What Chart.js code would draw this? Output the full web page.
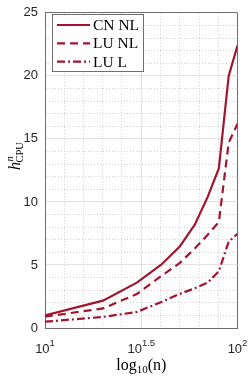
<!DOCTYPE html>
<html><head><meta charset="utf-8">
<script src="https://cdn.jsdelivr.net/npm/chart.js@4/dist/chart.umd.min.js"></script>
<style>html,body{margin:0;padding:0;background:#fff;} canvas{display:block;}</style>
</head><body>
<canvas id="c" width="249" height="376"></canvas>
<script>
// ---- data ----
const nValues = [10, 20, 30, 40, 50, 60, 70, 80, 90, 100];
const cnNL = [1.0, 2.17, 3.6, 5.0, 6.44, 8.2, 10.4, 12.66, 20.0, 22.4];
const luNL = [0.9, 1.55, 2.7, 4.1, 5.15, 6.3, 7.4, 8.4, 14.7, 16.2];
const luL  = [0.5, 0.88, 1.27, 2.05, 2.7, 3.15, 3.6, 4.5, 6.85, 7.48];
const seriesLabels = ['CN NL', 'LU NL', 'LU L'];
const xTickExponents = ['1', '1.5', '2'];
const yTickLabels = ['0', '5', '10', '15', '20', '25'];
const xTitleParts = ['log', '10', '(n)'];
const yTitleParts = ['h', 'n', 'CPU'];

const RED = '#A2142F';
const FRAME = '#6e6e6e';
const MAJOR = '#e2e2e2';
const MINOR = '#d2d2d2';

const toPts = arr => nValues.map((n, i) => ({x: n, y: arr[i]}));

const xGridExp = [];
for (let k = 0; k <= 10; k++) xGridExp.push(1 + k / 10);
const yGrid = [];
for (let k = 0; k <= 25; k++) yGrid.push(k);

const isXMajor = v => xTickExponents.some(e => Math.abs(Math.log10(v) - parseFloat(e)) < 1e-6);
const isYMajor = v => yTickLabels.includes(String(v));

const overlay = {
  id: 'overlay',
  afterDraw(chart) {
    const ctx = chart.ctx;
    const xs = chart.scales.x;
    const area = chart.chartArea;
    ctx.save();
    // x tick labels with superscripts
    ctx.fillStyle = '#262626';
    ctx.textAlign = 'left';
    ctx.textBaseline = 'alphabetic';
    const baseF = '13px "Liberation Sans", Arial, sans-serif';
    const supF = '9.5px "Liberation Sans", Arial, sans-serif';
    xTickExponents.forEach(e => {
      const px = xs.getPixelForValue(Math.pow(10, parseFloat(e)));
      ctx.font = baseF; const w1 = ctx.measureText('10').width;
      ctx.font = supF; const w2 = ctx.measureText(e).width;
      const x0 = px - (w1 + w2) / 2;
      ctx.font = baseF; ctx.fillText('10', x0, 353);
      ctx.font = supF; ctx.fillText(e, x0 + w1, 345.5);
    });
    // x title
    ctx.fillStyle = '#000';
    const tF = '16px "Liberation Serif", "Times New Roman", serif';
    const sF = '11px "Liberation Serif", "Times New Roman", serif';
    ctx.font = tF; const a = ctx.measureText(xTitleParts[0]).width;
    ctx.font = sF; const b = ctx.measureText(xTitleParts[1]).width;
    ctx.font = tF; const c = ctx.measureText(xTitleParts[2]).width;
    let x0 = (area.left + area.right) / 2 - (a + b + c) / 2;
    ctx.font = tF; ctx.fillText(xTitleParts[0], x0, 370);
    ctx.font = sF; ctx.fillText(xTitleParts[1], x0 + a, 373);
    ctx.font = tF; ctx.fillText(xTitleParts[2], x0 + a + b, 370);
    // y title rotated
    ctx.save();
    ctx.translate(20, 170);
    ctx.rotate(-Math.PI / 2);
    ctx.font = 'italic 16px "Liberation Serif", "Times New Roman", serif';
    const hw = ctx.measureText(yTitleParts[0]).width;
    ctx.fillText(yTitleParts[0], 0, 0);
    ctx.font = 'italic 10.5px "Liberation Serif", "Times New Roman", serif';
    ctx.fillText(yTitleParts[1], hw + 0.5, -7);
    ctx.font = '10.5px "Liberation Serif", "Times New Roman", serif';
    ctx.fillText(yTitleParts[2], hw - 0.5, 2.5);
    ctx.restore();
    // legend
    const L = 52.5, T = 14.5, R = 143.5, B = 71.5;
    ctx.fillStyle = '#fff';
    ctx.fillRect(L, T, R - L, B - T);
    ctx.strokeStyle = FRAME;
    ctx.lineWidth = 1;
    ctx.strokeRect(L, T, R - L, B - T);
    const rows = [25, 43.3, 61.7];
    chart.data.datasets.forEach((ds, i) => {
      const y = rows[i];
      ctx.strokeStyle = ds.borderColor;
      ctx.lineWidth = ds.borderWidth;
      ctx.setLineDash(ds.borderDash || []);
      ctx.beginPath();
      ctx.moveTo(57, y); ctx.lineTo(90, y);
      ctx.stroke();
      ctx.setLineDash([]);
      ctx.fillStyle = '#000';
      ctx.font = '15.5px "Liberation Serif", "Times New Roman", serif';
      ctx.fillText(ds.label, 93, y + 5);
    });
    ctx.restore();
  }
};

new Chart(document.getElementById('c'), {
  type: 'line',
  data: {
    datasets: [
      {label: seriesLabels[0], data: toPts(cnNL), borderColor: RED, borderWidth: 2.2, borderDash: [], pointRadius: 0, tension: 0, fill: false},
      {label: seriesLabels[1], data: toPts(luNL), borderColor: RED, borderWidth: 2.2, borderDash: [8, 5], pointRadius: 0, tension: 0, fill: false},
      {label: seriesLabels[2], data: toPts(luL), borderColor: RED, borderWidth: 2.2, borderDash: [8, 3, 2, 3], pointRadius: 0, tension: 0, fill: false}
    ]
  },
  options: {
    responsive: false,
    animation: false,
    devicePixelRatio: 1,
    layout: {padding: {top: 6, right: 11.5, left: 0, bottom: 0}},
    plugins: {legend: {display: false}, tooltip: {enabled: false}},
    scales: {
      x: {
        type: 'logarithmic',
        min: 10, max: 100,
        afterBuildTicks: s => { s.ticks = xGridExp.map(e => ({value: Math.pow(10, e)})); },
        afterFit: s => { s.height = 48; },
        ticks: {autoSkip: false, callback: () => '', display: true},
        grid: {
          drawTicks: false,
          color: c => c.tick ? (Math.abs(c.tick.value - 100) < 1e-6 ? FRAME : (isXMajor(c.tick.value) ? MAJOR : MINOR)) : MINOR,
          lineWidth: 1
        },
        border: {
          display: true, color: FRAME, width: 1,
          dash: c => (c.type === 'tick' && c.tick && !isXMajor(c.tick.value)) ? [1, 2] : []
        }
      },
      y: {
        type: 'linear',
        min: 0, max: 25,
        afterBuildTicks: s => { s.ticks = yGrid.map(v => ({value: v})); },
        afterFit: s => { s.width = 45; },
        ticks: {
          autoSkip: false,
          padding: 7,
          color: '#262626',
          font: {family: '"Liberation Sans", Arial, sans-serif', size: 13, lineHeight: 0.9},
          callback: v => yTickLabels.includes(String(v)) ? String(v) : ''
        },
        grid: {
          drawTicks: false,
          color: c => c.tick ? (c.tick.value === 25 ? FRAME : (isYMajor(c.tick.value) ? MAJOR : MINOR)) : MINOR,
          lineWidth: 1
        },
        border: {
          display: true, color: FRAME, width: 1,
          dash: c => (c.type === 'tick' && c.tick && !isYMajor(c.tick.value)) ? [1, 2] : []
        }
      }
    }
  },
  plugins: [overlay]
});
</script>
</body></html>
